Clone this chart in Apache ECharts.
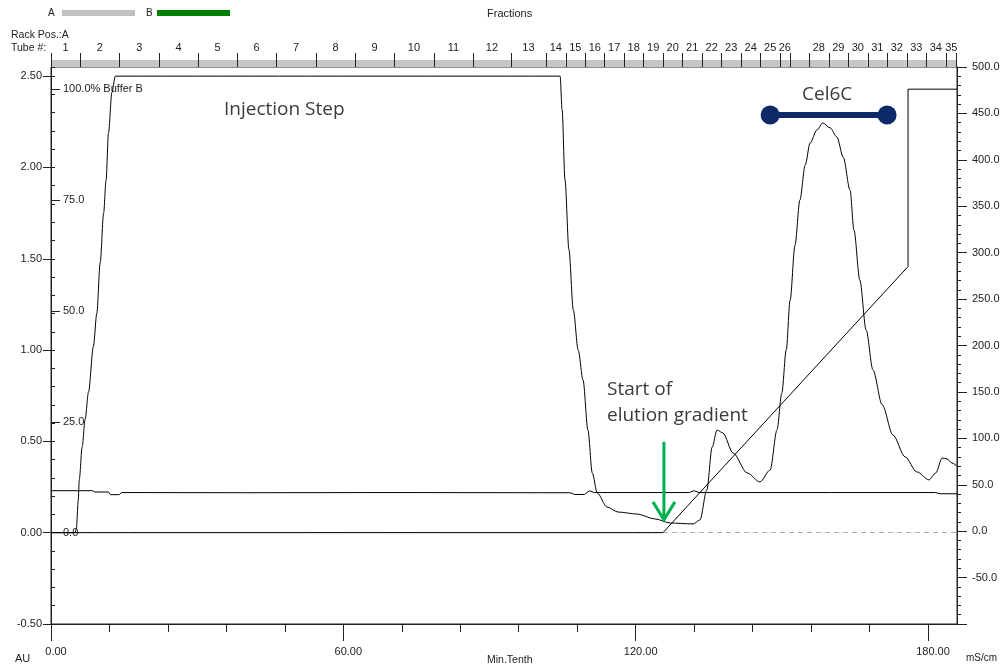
<!DOCTYPE html>
<html><head><meta charset="utf-8">
<script src="https://cdn.jsdelivr.net/npm/echarts@6/dist/echarts.min.js"></script>
<style>html,body{margin:0;padding:0;background:#fff}#c{width:1004px;height:670px}</style>
</head><body><div id="c"></div>
<script>
// ---- data ----
const uvTime = [0, 4.9, 5.2, 5.6, 5.8, 6.4, 7.0, 7.7, 8.7, 9.4, 10.1, 10.8, 11.3, 11.8, 12.5, 13.2, 104.5, 104.9, 105.5, 106.3, 107.2, 108.2, 109.2, 110.2, 111.1, 112.1, 114.1, 116.4, 120.3, 124.0, 127.1, 131.8, 133.2, 134.6, 135.7, 136.7, 137.9, 140.0, 142.9, 145.5, 147.6, 149.0, 150.0, 150.9, 151.7, 152.7, 153.7, 154.8, 155.8, 157.2, 158.4, 159.9, 161.3, 162.6, 164.0, 164.8, 166.0, 167.3, 168.7, 170.6, 172.8, 175.3, 177.7, 180.2, 181.6, 182.9, 183.9, 184.9, 185.9];
const uvAbs = [0, 0, 0.02, 0.18, 0.29, 0.47, 0.62, 0.77, 1.02, 1.20, 1.48, 1.75, 1.93, 2.19, 2.41, 2.50, 2.50, 2.315, 1.93, 1.55, 1.22, 1.0, 0.836, 0.562, 0.327, 0.218, 0.141, 0.113, 0.102, 0.075, 0.053, 0.048, 0.07, 0.234, 0.469, 0.562, 0.546, 0.436, 0.327, 0.278, 0.343, 0.562, 0.765, 1.0, 1.274, 1.575, 1.821, 2.013, 2.134, 2.205, 2.244, 2.217, 2.167, 2.057, 1.876, 1.657, 1.384, 1.11, 0.891, 0.7, 0.535, 0.415, 0.333, 0.289, 0.327, 0.409, 0.404, 0.382, 0.365];

const gradTime = [0, 125.6, 175.9, 175.9, 185.95];
const gradPctB = [0, 0, 60, 100, 100];

const condTime = [0, 8.5, 9.0, 11.8, 12.2, 14.0, 14.5, 40, 70, 100, 106.5, 107.5, 109.5, 110.5, 111.5, 112.5, 131.0, 132.0, 133.0, 160, 181.5, 182.5, 185.95];
const condValue = [43.6, 43.6, 42.2, 42.2, 39.3, 39.3, 41.6, 41.4, 41.6, 41.4, 41.4, 39.5, 39.5, 43.5, 41.6, 41.6, 41.6, 43.6, 41.6, 41.6, 41.6, 40.3, 40.3];

const tubeEdges = [-2, 6.0, 14.0, 22.2, 30.2, 38.2, 46.2, 54.4, 62.4, 70.4, 78.6, 86.6, 94.4, 101.6, 105.6, 109.6, 113.6, 117.6, 121.6, 125.6, 129.6, 133.6, 137.6, 141.6, 145.6, 149.6, 151.6, 155.6, 159.6, 163.6, 167.6, 171.6, 175.6, 179.6, 183.6, 187.6];
const tubeLabels = ['1','2','3','4','5','6','7','8','9','10','11','12','13','14','15','16','17','18','19','20','21','22','23','24','25','26','','28','29','30','31','32','33','34','35'];

const timeTicks = [0, 60, 120, 180];
const timeMinorTicks = [0, 12, 24, 36, 48, 60, 72, 84, 96, 108, 120, 132, 144, 156, 168, 180];
const auTicks = [-0.5, 0, 0.5, 1.0, 1.5, 2.0, 2.5];
const pctTicks = [0, 25, 50, 75, 100];

const cel6cPool = [147.6, 171.6];
const cel6cLevel = 2.287;
const gradientStartMark = [125.8, 0.497, 0.07]; // time, arrow top (AU), arrow tip (AU)

// ---- chart ----
const X_MIN = 0, X_MAX = 185.95;
const FONT = 'Liberation Sans, Arial, sans-serif';
const TXT = '#222';
const zip = (a, b) => a.map((v, i) => [v, b[i]]);

const chart = echarts.init(document.getElementById('c'), null, {renderer: 'canvas'});

const tubeData = tubeLabels.map((l, i) => [tubeEdges[i], tubeEdges[i + 1]]);

const option = {
  animation: false,
  backgroundColor: '#fff',
  grid: [
    {left: 51, right: 47, top: 67, bottom: 46, show: true, borderColor: '#222', borderWidth: 1, containLabel: false},
    {left: 51, right: 47, top: 53, height: 14, show: false}
  ],
  xAxis: [
    {gridIndex: 0, type: 'value', min: X_MIN, max: X_MAX, position: 'bottom',
     axisLine: {onZero: false, lineStyle: {color: '#222'}},
     axisTick: {customValues: timeTicks, length: 17, lineStyle: {color: '#222'}},
     axisLabel: {customValues: timeTicks, formatter: v => v.toFixed(2), margin: 22, padding: [0, 0, 0, 10],
                 fontSize: 11, fontFamily: FONT, color: TXT},
     splitLine: {show: false}},
    {gridIndex: 0, type: 'value', min: X_MIN, max: X_MAX, position: 'bottom',
     axisLine: {show: false, onZero: false},
     axisTick: {customValues: timeMinorTicks, length: 8, lineStyle: {color: '#222'}},
     axisLabel: {show: false}, splitLine: {show: false}},
    {gridIndex: 1, type: 'value', min: X_MIN, max: X_MAX, show: false, axisLine: {onZero: false}}
  ],
  yAxis: [
    {gridIndex: 0, type: 'value', min: -0.5, max: 2.55, position: 'left',
     axisLine: {show: true, onZero: false, lineStyle: {color: '#222'}},
     axisTick: {show: true, customValues: auTicks, length: 8, lineStyle: {color: '#222'}},
     axisLabel: {customValues: auTicks, formatter: v => v.toFixed(2), margin: 9, fontSize: 11, fontFamily: FONT, color: TXT},
     splitLine: {show: false}},
    {gridIndex: 0, type: 'value', min: -0.5, max: 2.55, interval: 0.1, position: 'left',
     axisLine: {show: false, onZero: false},
     axisTick: {show: true, inside: true, length: 4, lineStyle: {color: '#222'}},
     axisLabel: {show: false}, splitLine: {show: false}},
    {gridIndex: 0, type: 'value', min: -20.6, max: 105, position: 'left',
     axisLine: {show: false, onZero: false},
     axisTick: {show: true, inside: true, customValues: pctTicks, length: 9, lineStyle: {color: '#222'}},
     axisLabel: {inside: true, customValues: pctTicks, margin: 12,
                 formatter: v => v === 100 ? '100.0% Buffer B' : v.toFixed(1),
                 fontSize: 11, fontFamily: FONT, color: TXT},
     splitLine: {show: false}},
    {gridIndex: 0, type: 'value', min: -100, max: 500, interval: 50, position: 'right',
     axisLine: {show: true, onZero: false, lineStyle: {color: '#222'}},
     axisTick: {show: true, length: 10, lineStyle: {color: '#222'}},
     minorTick: {show: true, splitNumber: 5, length: 4, lineStyle: {color: '#222'}},
     axisLabel: {showMinLabel: false, formatter: v => v.toFixed(1), margin: 15, fontSize: 11, fontFamily: FONT, color: TXT},
     splitLine: {show: false}},
    {gridIndex: 1, type: 'value', min: 0, max: 2, show: false, axisLine: {onZero: false}}
  ],
  series: [
    {name: 'UV', type: 'line', xAxisIndex: 0, yAxisIndex: 0, data: zip(uvTime, uvAbs),
     showSymbol: false, smooth: 0.3, smoothMonotone: 'x', lineStyle: {color: '#000', width: 1}, z: 3,
     markLine: {silent: true, symbol: 'none', z: 1, label: {show: false},
                lineStyle: {color: '#aaa', type: [5, 4], width: 1}, data: [{yAxis: 0}]}},
    {name: '% Buffer B', type: 'line', xAxisIndex: 0, yAxisIndex: 2, data: zip(gradTime, gradPctB),
     showSymbol: false, lineStyle: {color: '#000', width: 1}, z: 3},
    {name: 'Conductivity', type: 'line', xAxisIndex: 0, yAxisIndex: 3, data: zip(condTime, condValue),
     showSymbol: false, lineStyle: {color: '#000', width: 1}, z: 3},
    {name: 'Cel6C', type: 'line', xAxisIndex: 0, yAxisIndex: 0,
     data: cel6cPool.map(t => [t, cel6cLevel]),
     symbol: 'circle', symbolSize: 19, showSymbol: true,
     itemStyle: {color: '#0c2a68'}, lineStyle: {color: '#0c2a68', width: 6}, z: 4},
    {name: 'arrow', type: 'custom', xAxisIndex: 0, yAxisIndex: 0, data: [gradientStartMark],
     renderItem: (params, api) => {
       const top = api.coord([api.value(0), api.value(1)]);
       const bot = api.coord([api.value(0), api.value(2)]);
       const st = {stroke: '#00b050', lineWidth: 3, fill: null};
       return {type: 'group', children: [
         {type: 'line', shape: {x1: top[0], y1: top[1], x2: bot[0], y2: bot[1] - 2}, style: st},
         {type: 'polyline', shape: {points: [[bot[0] - 11, bot[1] - 18], [bot[0], bot[1]], [bot[0] + 11, bot[1] - 18]]}, style: st}
       ]};
     }, z: 5},
    {name: 'fractions', type: 'custom', xAxisIndex: 2, yAxisIndex: 4, data: tubeData,
     renderItem: (params, api) => {
       const s = Math.max(api.value(0), X_MIN), e = Math.min(api.value(1), X_MAX);
       const pS = api.coord([s, 0]), pE = api.coord([e, 0]);
       const pMid = api.coord([s, 1]), pTop = api.coord([s, 2]);
       const xs = Math.round(pS[0]) + 0.5, xe = Math.round(pE[0]) + 0.5;
       const children = [
         {type: 'rect', shape: {x: pS[0], y: pMid[1], width: pE[0] - pS[0], height: pS[1] - pMid[1]}, style: {fill: '#c6c6c6'}},
         {type: 'line', shape: {x1: xs, y1: pS[1], x2: xs, y2: pTop[1]}, style: {stroke: '#222', lineWidth: 1}},
         {type: 'text', style: {text: tubeLabels[params.dataIndex], x: (pS[0] + pE[0]) / 2, y: pTop[1] - 5,
                                align: 'center', verticalAlign: 'middle', fontSize: 11, fontFamily: FONT, fill: TXT}}
       ];
       if (api.value(1) >= X_MAX) {
         children.push({type: 'line', shape: {x1: xe - 1, y1: pS[1], x2: xe - 1, y2: pTop[1]}, style: {stroke: '#222', lineWidth: 1}});
       }
       return {type: 'group', children};
     }}
  ],
  graphic: [
    {type: 'text', left: 48, top: 8, style: {text: 'A', fontSize: 10, fontFamily: FONT, fill: TXT}},
    {type: 'rect', shape: {x: 62, y: 10, width: 73, height: 6}, style: {fill: '#c0c0c0'}},
    {type: 'text', left: 146, top: 8, style: {text: 'B', fontSize: 10, fontFamily: FONT, fill: TXT}},
    {type: 'rect', shape: {x: 157, y: 10, width: 73, height: 6}, style: {fill: '#008000'}},
    {type: 'text', left: 487, top: 8, style: {text: 'Fractions', fontSize: 11, fontFamily: FONT, fill: TXT}},
    {type: 'text', left: 11, top: 30, style: {text: 'Rack Pos.:A', fontSize: 10.5, fontFamily: FONT, fill: TXT}},
    {type: 'text', left: 11, top: 43, style: {text: 'Tube #:', fontSize: 10.5, fontFamily: FONT, fill: TXT}},
    {type: 'text', left: 15, top: 653, style: {text: 'AU', fontSize: 11, fontFamily: FONT, fill: TXT}},
    {type: 'text', left: 487, top: 655, style: {text: 'Min.Tenth', fontSize: 10.5, fontFamily: FONT, fill: TXT}},
    {type: 'text', left: 966, top: 653, style: {text: 'mS/cm', fontSize: 10, fontFamily: FONT, fill: TXT}},
    {type: 'text', left: 224, top: 100, style: {text: 'Injection Step', fontSize: 19, fontFamily: 'Open Sans, sans-serif', fill: '#3a3a3a'}},
    {type: 'text', left: 802, top: 85, style: {text: 'Cel6C', fontSize: 19, fontFamily: 'Open Sans, sans-serif', fill: '#3a3a3a'}},
    {type: 'text', left: 607, top: 380, style: {text: 'Start of', fontSize: 19, fontFamily: 'Open Sans, sans-serif', fill: '#3a3a3a'}},
    {type: 'text', left: 607, top: 406, style: {text: 'elution gradient', fontSize: 19, fontFamily: 'Open Sans, sans-serif', fill: '#3a3a3a'}}
  ]
};
chart.setOption(option);
</script>
</body></html>
